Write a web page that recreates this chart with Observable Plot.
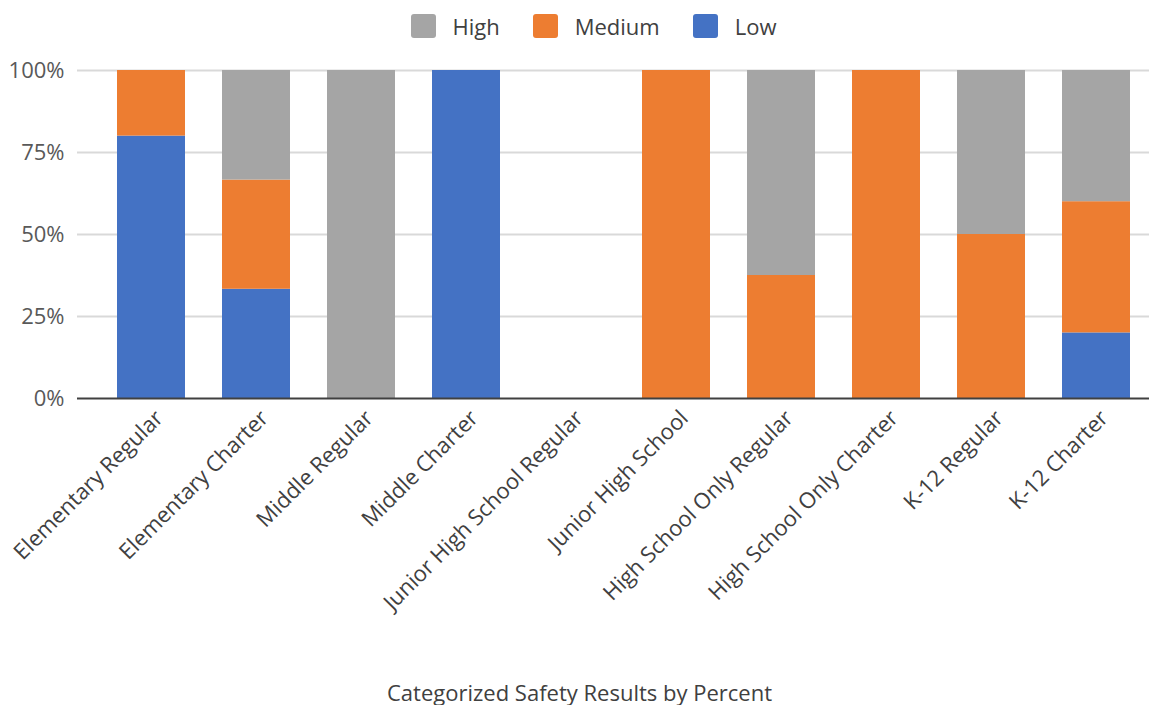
<!DOCTYPE html>
<html>
<head>
<meta charset="utf-8">
<script src="https://cdn.jsdelivr.net/npm/d3@7"></script>
<script src="https://cdn.jsdelivr.net/npm/@observablehq/plot@0.6"></script>
<style>
  html, body { margin: 0; padding: 0; background: #fff; }
  body { width: 1159px; height: 705px; overflow: hidden; font-family: "Open Sans", sans-serif; color: #404040; }
  #legend { height: 52px; display: flex; justify-content: center; align-items: center; font-size: 22px; color: #404040; padding-left: 28px; box-sizing: border-box; }
  .item { display: flex; align-items: center; margin-right: 33px; }
  .item:last-child { margin-right: 0; }
  .sw { width: 25px; height: 24px; border-radius: 3px; margin-right: 17px; }
  #caption { text-align: center; font-size: 22px; color: #404040; height: 40px; line-height: 40px; }
</style>
</head>
<body>
<div id="legend"></div>
<div id="chart"></div>
<div id="caption">Categorized Safety Results by Percent</div>
<script>
const categories = [
  "Elementary Regular", "Elementary Charter", "Middle Regular", "Middle Charter",
  "Junior High School Regular", "Junior High School", "High School Only Regular",
  "High School Only Charter", "K-12 Regular", "K-12 Charter"
];
const levels = ["Low", "Medium", "High"];
const legendOrder = ["High", "Medium", "Low"];
const levelColors = ["#4472c4", "#ed7d31", "#a5a5a5"];
const lowValues    = [80, 33.3, 0, 100, 0, 0, 0, 0, 0, 20];
const mediumValues = [20, 33.3, 0, 0, 0, 100, 37.5, 100, 50, 40];
const highValues   = [0, 33.4, 100, 0, 0, 0, 62.5, 0, 50, 40];
const yTicks = [0, 25, 50, 75, 100];

const seriesValues = [lowValues, mediumValues, highValues];
const data = [];
levels.forEach((lv, i) => {
  categories.forEach((c, j) => data.push({category: c, level: lv, value: seriesValues[i][j]}));
});

const legend = document.getElementById("legend");
legendOrder.forEach(lv => {
  const it = document.createElement("div");
  it.className = "item";
  const sw = document.createElement("div");
  sw.className = "sw";
  sw.style.background = levelColors[levels.indexOf(lv)];
  const t = document.createElement("span");
  t.textContent = lv;
  it.appendChild(sw); it.appendChild(t);
  legend.appendChild(it);
});

const chart = Plot.plot({
  width: 1159,
  height: 620,
  marginTop: 18,
  marginLeft: 77,
  marginRight: 10,
  marginBottom: 274,
  style: {fontFamily: "Open Sans, sans-serif", fontSize: "22px", color: "#595959", background: "#fff"},
  x: {domain: categories, paddingInner: 0.35, paddingOuter: 0.175, insetLeft: 20.5, label: null},
  y: {domain: [0, 100], label: null},
  color: {domain: levels, range: levelColors},
  marks: [
    Plot.ruleY(yTicks.slice(1), {stroke: "#d9d9d9", strokeWidth: 2}),
    Plot.barY(data, {x: "category", y: "value", fill: "level", order: levels}),
    Plot.ruleY([0], {stroke: "#404040", strokeWidth: 2}),
    Plot.axisY({ticks: yTicks, tickFormat: d => d + "%", tickSize: 0, tickPadding: 13, fontSize: 22, fill: "#595959"}),
    Plot.axisX({tickRotate: -45, tickSize: 0, tickPadding: 16, dx: 8, fontSize: 22, fill: "#404040"})
  ]
});
document.getElementById("chart").appendChild(chart);
</script>
</body>
</html>
